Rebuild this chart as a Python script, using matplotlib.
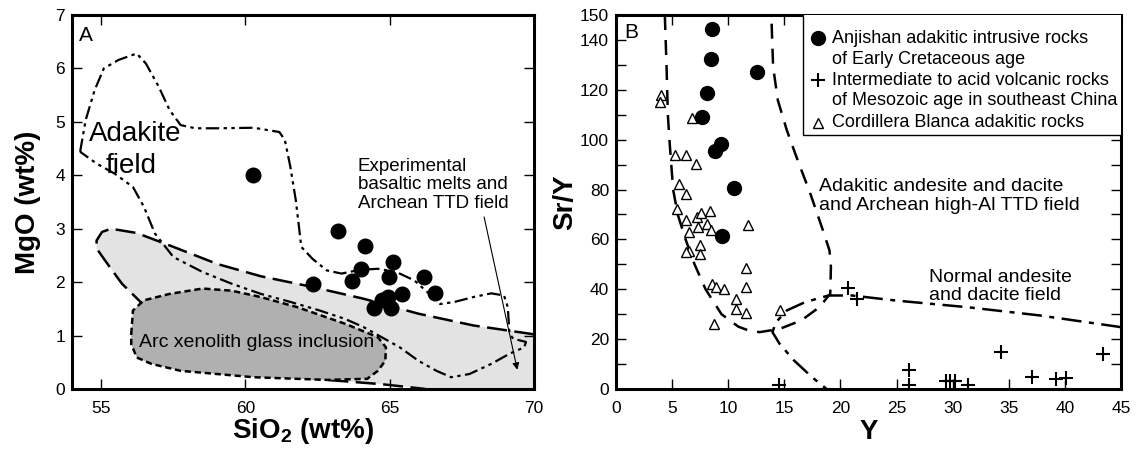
import matplotlib.pyplot as plt
from matplotlib.patches import Polygon, Rectangle

plt.rcParams['font.family'] = ['Liberation Sans', 'DejaVu Sans']
plt.rcParams['mathtext.fontset'] = 'custom'
plt.rcParams['mathtext.rm'] = 'Liberation Sans'
plt.rcParams['mathtext.bf'] = 'Liberation Sans:bold'

# ---- Panel A data: SiO2 vs MgO ----
sio2_anjishan = [60.25, 63.2, 64.15, 62.35, 64.0, 63.7, 65.1, 64.97, 66.18, 66.56,
                 65.44, 64.75, 64.95, 64.47, 65.06]
mgo_anjishan = [4.0, 2.95, 2.67, 1.97, 2.24, 2.03, 2.38, 2.1, 2.1, 1.8,
                1.78, 1.67, 1.72, 1.52, 1.52]

# adakite field outline (closed)
adakite_sio2 = [54.28, 54.47, 54.78, 55.10, 55.61, 56.24, 56.56, 57.0, 57.38, 57.76,
                58.27, 59.03, 60.29, 61.18, 61.37, 61.56, 61.75, 61.94, 62.32, 62.82,
                63.33, 63.96, 64.59, 65.23, 65.86, 66.37, 66.75, 67.25, 67.89, 68.52,
                68.96, 69.09, 69.15, 69.28, 69.72, 69.66, 69.15, 68.52, 67.76, 67.13,
                66.62, 65.99, 65.35, 64.72, 64.09, 63.46, 62.57, 61.56, 60.54, 59.53,
                58.52, 57.51, 56.87, 56.49, 56.11, 55.48, 54.85, 54.28]
adakite_mgo = [4.44, 5.03, 5.59, 6.0, 6.16, 6.28, 6.09, 5.66, 5.22, 4.94,
               4.88, 4.88, 4.89, 4.81, 4.66, 4.16, 3.53, 2.66, 2.44, 2.22,
               2.16, 2.23, 2.25, 2.19, 2.03, 1.78, 1.59, 1.63, 1.72, 1.79,
               1.75, 1.53, 1.03, 0.94, 0.88, 0.78, 0.66, 0.47, 0.28, 0.22,
               0.34, 0.53, 0.78, 0.97, 1.16, 1.31, 1.47, 1.63, 1.78, 1.97,
               2.19, 2.47, 2.91, 3.41, 3.78, 4.03, 4.22, 4.44]

# experimental basaltic melts / Archean TTD field (open boundary, right end to bottom)
ttd_sio2 = [70.0, 69.91, 67.89, 65.99, 64.09, 62.32, 60.54, 59.03, 57.51, 56.24,
            55.35, 55.04, 54.85, 54.85, 55.23, 55.73, 56.37, 57.13, 58.39, 60.29,
            62.82, 64.72, 66.24]
ttd_mgo = [1.02, 1.03, 1.19, 1.41, 1.69, 1.91, 2.11, 2.34, 2.66, 2.92,
           3.0, 2.94, 2.78, 2.63, 2.34, 1.97, 1.63, 1.34, 0.84, 0.34,
           0.17, 0.09, 0.0]

# arc xenolith glass inclusion field
arc_sio2 = [56.05, 56.11, 56.49, 57.38, 58.52, 59.53, 60.54, 61.81, 63.46, 64.59,
            64.87, 64.85, 64.59, 64.22, 62.82, 60.29, 57.76, 56.75, 56.24, 56.05]
arc_mgo = [1.03, 1.47, 1.66, 1.78, 1.88, 1.84, 1.72, 1.53, 1.22, 0.97,
           0.78, 0.53, 0.34, 0.19, 0.17, 0.22, 0.34, 0.47, 0.59, 0.84]

# ---- Panel B data: Y vs Sr/Y ----
y_anjishan = [8.53, 8.46, 12.52, 8.14, 7.66, 9.37, 8.85, 10.49, 9.43]
sry_anjishan = [144.2, 132.3, 127.1, 118.8, 109.1, 98.2, 95.5, 80.6, 61.5]

y_se_china = [20.7, 21.44, 14.52, 26.07, 26.07, 29.38, 29.8, 30.19, 31.32, 34.31,
              37.05, 39.2, 40.1, 43.39]
sry_se_china = [40.6, 35.9, 1.7, 7.8, 1.7, 3.3, 3.3, 3.3, 1.7, 14.7,
                4.7, 4.0, 4.3, 14.1]

y_cordillera = [4.02, 3.9, 6.79, 5.25, 6.28, 7.11, 5.57, 6.28, 5.41, 6.28,
                7.24, 7.56, 8.4, 7.34, 8.08, 8.46, 6.53, 7.5, 7.5, 6.47,
                6.28, 11.78, 11.62, 11.62, 8.53, 8.95, 9.59, 10.65, 10.65, 11.62,
                8.69, 14.58]
sry_cordillera = [118.1, 115.2, 108.5, 93.7, 93.7, 90.1, 82.4, 78.3, 72.3, 67.6,
                  69.0, 70.7, 71.2, 65.0, 66.3, 63.6, 62.9, 57.9, 54.0, 55.3,
                  54.9, 65.6, 48.5, 41.1, 42.2, 41.1, 40.0, 35.9, 32.1, 30.4,
                  26.1, 31.5]

adakitic_y = [4.35, 4.5, 4.62, 4.76, 5.09, 5.5, 6.2, 7.0, 7.98, 9.4,
              10.9, 11.8, 12.8, 14.58, 16.51, 18.12, 19.09, 19.15, 19.02, 18.44,
              17.32, 16.19, 15.22, 14.42, 14.0, 13.84]
adakitic_sry = [150, 130, 110, 100, 80, 70, 60, 50, 40, 30,
                25, 23.5, 22.8, 24.1, 27.5, 32.8, 38.2, 48.9, 55.6, 63.6,
                78.3, 91.7, 103.8, 115.8, 129.2, 150]

normal_y = [45, 37.75, 31.32, 24.88, 21.02, 18.93, 16.83, 15.22, 14.26, 13.94,
            14.58, 15.87, 17.48, 18.76]
normal_sry = [24.8, 29.5, 32.8, 35.5, 37.5, 37.5, 34.8, 31.5, 26.8, 22.8,
              18.1, 11.4, 4.7, 0]

b_yticks = list(range(0, 151, 10))
b_ylabels = ['0', '', '20', '', '40', '', '60', '', '80', '', '100', '', '120', '', '140', '150']

legend_labels = [['Anjishan adakitic intrusive rocks', 'of Early Cretaceous age'],
                 ['Intermediate to acid volcanic rocks', 'of Mesozoic age in southeast China'],
                 ['Cordillera Blanca adakitic rocks']]

dashdotdot = (0, (6, 2, 1.5, 2, 1.5, 2))

fig = plt.figure(figsize=(11.38, 4.5), dpi=100)
axA = fig.add_axes([0.0633, 0.1356, 0.406, 0.831])
axB = fig.add_axes([0.5413, 0.1356, 0.4438, 0.831])

for ax in (axA, axB):
    for sp in ax.spines.values():
        sp.set_linewidth(2.2)
    ax.tick_params(direction='in', top=True, right=True, length=7, width=1.0,
                   labelsize=12.5, pad=9)
    ax.tick_params(axis='y', pad=5)

# ---- Panel A ----
ttd_poly_x = ttd_sio2 + [70.3, 70.3]
ttd_poly_y = ttd_mgo + [-0.1, 1.02]
axA.add_patch(Polygon(list(zip(ttd_poly_x, ttd_poly_y)), closed=True,
                      facecolor='#e3e3e3', edgecolor='none', zorder=1))
axA.plot(ttd_sio2, ttd_mgo, color='black', lw=1.8, ls=(0, (8, 3)), zorder=2)
axA.add_patch(Polygon(list(zip(arc_sio2, arc_mgo)), closed=True,
                      facecolor='#b0b0b0', edgecolor='black', lw=1.8,
                      ls=(0, (2.5, 1.5)), zorder=3))
axA.plot(adakite_sio2, adakite_mgo, color='black', lw=1.6, ls=dashdotdot, zorder=4)
axA.plot(sio2_anjishan, mgo_anjishan, 'o', color='black', ms=10.5, zorder=5)

axA.text(54.25, 6.8, 'A', fontsize=15, va='top', ha='left')
axA.text(56.2, 4.78, 'Adakite', fontsize=20, ha='center', va='center', zorder=6)
axA.text(56.05, 4.18, 'field', fontsize=20, ha='center', va='center', zorder=6)
axA.text(63.9, 4.33, 'Experimental\nbasaltic melts and\nArchean TTD field',
         fontsize=13.5, ha='left', va='top', linespacing=1.12)
axA.text(60.4, 0.87, 'Arc xenolith glass inclusion', fontsize=14,
         ha='center', va='center', zorder=6)
axA.annotate('', xy=(69.42, 0.36), xytext=(68.27, 3.22),
             arrowprops=dict(arrowstyle='-|>', color='black', lw=0.8,
                             mutation_scale=10, shrinkA=0, shrinkB=0))

axA.set_xlim(54, 70)
axA.set_ylim(0, 7)
axA.set_xticks([55, 60, 65, 70])
axA.set_yticks(range(0, 8))
axA.set_xlabel(r'SiO$_\mathbf{2}$ (wt%)', fontsize=20, fontweight='bold', labelpad=0)
axA.set_ylabel('MgO (wt%)', fontsize=20, fontweight='bold', labelpad=10)

# ---- Panel B ----
axB.plot(adakitic_y, adakitic_sry, color='black', lw=1.8, ls=(0, (6, 4)), zorder=2)
axB.plot(normal_y, normal_sry, color='black', lw=1.8, ls=(0, (8, 3, 2, 3)), zorder=2)
axB.plot(y_cordillera, sry_cordillera, '^', mfc='white', mec='black', mew=1.0,
         ms=6.5, zorder=3)
axB.plot(y_se_china, sry_se_china, '+', color='black', mew=1.5, ms=10, zorder=3)
axB.plot(y_anjishan, sry_anjishan, 'o', color='black', ms=10, zorder=4)

axB.text(0.75, 147, 'B', fontsize=15, va='top', ha='left')
axB.text(18.05, 84.5, 'Adakitic andesite and dacite\nand Archean high-Al TTD field',
         fontsize=14, ha='left', va='top', linespacing=1.1)
axB.text(27.9, 48.3, 'Normal andesite\nand dacite field',
         fontsize=14, ha='left', va='top', linespacing=1.1)

# legend box drawn in axes fraction
axB.add_patch(Rectangle((0.370, 0.679), 0.64, 0.33, transform=axB.transAxes,
                        facecolor='white', edgecolor='black', lw=1.0, zorder=5,
                        clip_on=True))
leg_rows = [[0.9377, 0.8824], [0.8262, 0.7727], [0.7120]]
leg_marker = [dict(marker='o', color='black', ms=10),
              dict(marker='+', color='black', mew=1.5, ms=10),
              dict(marker='^', mfc='white', mec='black', mew=1.0, ms=6.5)]
for rows, lines, mk in zip(leg_rows, legend_labels, leg_marker):
    axB.plot([0.399], [rows[0]], ls='none', transform=axB.transAxes, zorder=6, **mk)
    for yy, line in zip(rows, lines):
        axB.text(0.4275, yy, line, transform=axB.transAxes, fontsize=13,
                 ha='left', va='center', zorder=6)

axB.set_xlim(0, 45)
axB.set_ylim(0, 150)
axB.set_xticks(range(0, 46, 5))
axB.set_yticks(b_yticks)
axB.set_yticklabels(b_ylabels)
axB.tick_params(axis='y', pad=5)
axB.set_xlabel('Y', fontsize=20, fontweight='bold', labelpad=2)
axB.set_ylabel('Sr/Y', fontsize=20, fontweight='bold', labelpad=1)

fig.savefig('out.png', dpi=100)
